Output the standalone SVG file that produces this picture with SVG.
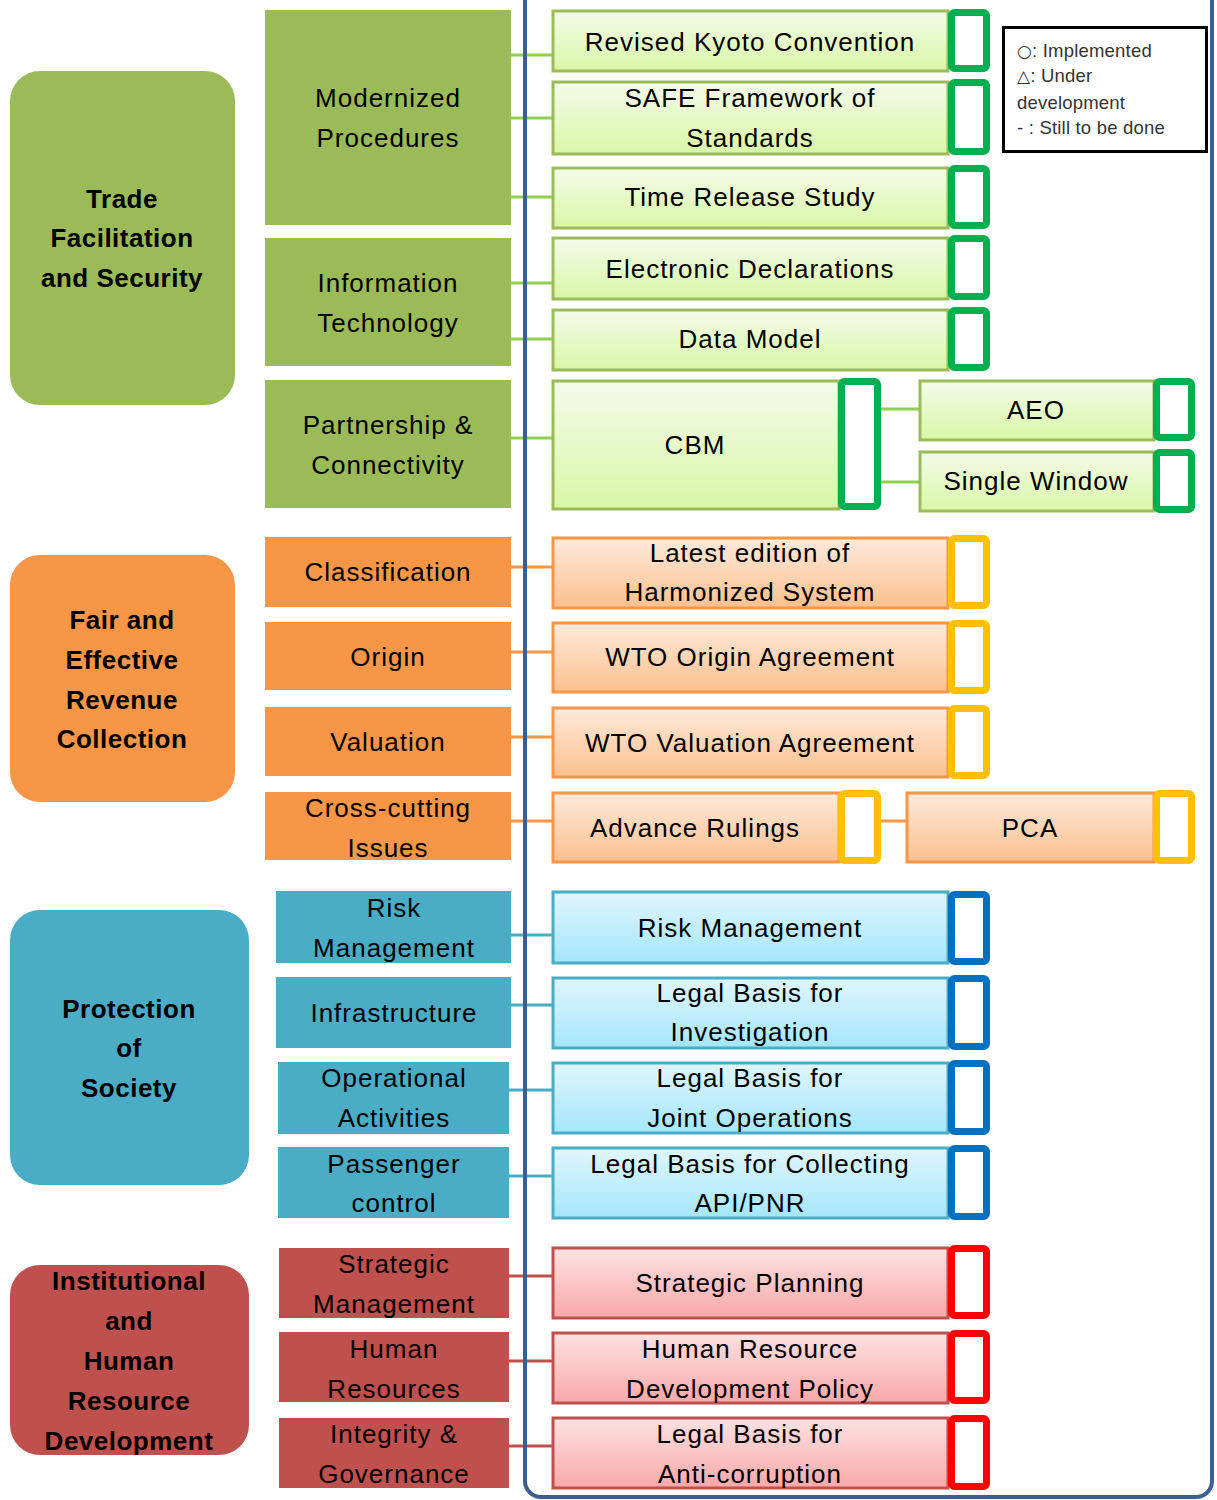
<svg xmlns="http://www.w3.org/2000/svg" width="1217" height="1500" viewBox="0 0 1217 1500">
<defs>
<linearGradient id="gG" x1="0" y1="0" x2="0" y2="1"><stop offset="0" stop-color="#F4FBEA"/><stop offset="1" stop-color="#D8F7A6"/></linearGradient>
<linearGradient id="gO" x1="0" y1="0" x2="0" y2="1"><stop offset="0" stop-color="#FEEADB"/><stop offset="1" stop-color="#FBC08E"/></linearGradient>
<linearGradient id="gB" x1="0" y1="0" x2="0" y2="1"><stop offset="0" stop-color="#E0F6FD"/><stop offset="1" stop-color="#A4E6FA"/></linearGradient>
<linearGradient id="gR" x1="0" y1="0" x2="0" y2="1"><stop offset="0" stop-color="#FDE2E2"/><stop offset="1" stop-color="#F9A8A8"/></linearGradient>
</defs>
<style>
text{font-family:"Liberation Sans",Arial,sans-serif;font-size:26px;fill:#000;text-anchor:middle;letter-spacing:1px}
.cat text{font-weight:bold;letter-spacing:0.5px}
.cG{fill:#9BBB59}.cO{fill:#F79646}.cB{fill:#4BACC6}.cR{fill:#C0504D}
.bG{fill:url(#gG);stroke:#9BBB59;stroke-width:3}
.bO{fill:url(#gO);stroke:#F79646;stroke-width:3}
.bB{fill:url(#gB);stroke:#4BACC6;stroke-width:3}
.bR{fill:url(#gR);stroke:#C0504D;stroke-width:3}
.sG{fill:#fff;stroke:#00B050;stroke-width:7}
.sO{fill:#fff;stroke:#FFC000;stroke-width:7}
.sB{fill:#fff;stroke:#0070C0;stroke-width:7}
.sR{fill:#fff;stroke:#FF0000;stroke-width:7}
.lG{stroke:#92D050;stroke-width:3}
.lO{stroke:#F79646;stroke-width:3}
.lB{stroke:#4BACC6;stroke-width:3}
.lR{stroke:#C0504D;stroke-width:3}
.leg text{font-size:18.5px;fill:#333;text-anchor:start;letter-spacing:0.2px}
.sym{font-family:"DejaVu Sans",sans-serif;font-size:17px}
</style>

<!-- categories -->
<g id="cat-trade" class="cat"><rect class="cG" x="10" y="71" width="225" height="334" rx="30"/><text x="122"><tspan x="122" y="208">Trade</tspan><tspan x="122" y="247">Facilitation</tspan><tspan x="122" y="287">and Security</tspan></text></g>
<g id="cat-revenue" class="cat"><rect class="cO" x="10" y="555" width="225" height="247" rx="30"/><text><tspan x="122" y="629">Fair and</tspan><tspan x="122" y="669">Effective</tspan><tspan x="122" y="709">Revenue</tspan><tspan x="122" y="748">Collection</tspan></text></g>
<g id="cat-society" class="cat"><rect class="cB" x="10" y="910" width="239" height="275" rx="30"/><text><tspan x="129" y="1018">Protection</tspan><tspan x="129" y="1057">of</tspan><tspan x="129" y="1097">Society</tspan></text></g>
<g id="cat-hr" class="cat"><rect class="cR" x="10" y="1265" width="239" height="190" rx="30"/><text><tspan x="129" y="1290">Institutional</tspan><tspan x="129" y="1330">and</tspan><tspan x="129" y="1370">Human</tspan><tspan x="129" y="1410">Resource</tspan><tspan x="129" y="1450">Development</tspan></text></g>

<!-- sub-categories -->
<g id="sub-modernized"><rect class="cG" x="265" y="10" width="246" height="215"/><text><tspan x="388" y="107">Modernized</tspan><tspan x="388" y="147">Procedures</tspan></text></g>
<g id="sub-it"><rect class="cG" x="265" y="238" width="246" height="128"/><text><tspan x="388" y="292">Information</tspan><tspan x="388" y="332">Technology</tspan></text></g>
<g id="sub-partnership"><rect class="cG" x="265" y="380" width="246" height="128"/><text><tspan x="388" y="434">Partnership &amp;</tspan><tspan x="388" y="474">Connectivity</tspan></text></g>

<g id="sub-classification"><rect class="cO" x="265" y="537" width="246" height="70"/><text x="388" y="581">Classification</text></g>
<g id="sub-origin"><rect class="cO" x="265" y="622" width="246" height="68"/><text x="388" y="666">Origin</text></g>
<g id="sub-valuation"><rect class="cO" x="265" y="707" width="246" height="69"/><text x="388" y="751">Valuation</text></g>
<g id="sub-crosscutting"><rect class="cO" x="265" y="792" width="246" height="68"/><text><tspan x="388" y="817">Cross-cutting</tspan><tspan x="388" y="857">Issues</tspan></text></g>

<g id="sub-risk"><rect class="cB" x="276" y="891" width="235" height="72"/><text><tspan x="394" y="917">Risk</tspan><tspan x="394" y="957">Management</tspan></text></g>
<g id="sub-infra"><rect class="cB" x="276" y="977" width="235" height="71"/><text x="394" y="1022">Infrastructure</text></g>
<g id="sub-operational"><rect class="cB" x="278" y="1062" width="231" height="72"/><text><tspan x="394" y="1087">Operational</tspan><tspan x="394" y="1127">Activities</tspan></text></g>
<g id="sub-passenger"><rect class="cB" x="278" y="1147" width="231" height="71"/><text><tspan x="394" y="1173">Passenger</tspan><tspan x="394" y="1212">control</tspan></text></g>

<g id="sub-strategic"><rect class="cR" x="279" y="1248" width="230" height="70"/><text><tspan x="394" y="1273">Strategic</tspan><tspan x="394" y="1313">Management</tspan></text></g>
<g id="sub-humanres"><rect class="cR" x="279" y="1332" width="230" height="70"/><text><tspan x="394" y="1358">Human</tspan><tspan x="394" y="1398">Resources</tspan></text></g>
<g id="sub-integrity"><rect class="cR" x="279" y="1418" width="230" height="70"/><text><tspan x="394" y="1443">Integrity &amp;</tspan><tspan x="394" y="1483">Governance</tspan></text></g>

<!-- connectors -->
<g id="connectors">
<line class="lG" x1="511" y1="55" x2="553" y2="55"/>
<line class="lG" x1="511" y1="118" x2="553" y2="118"/>
<line class="lG" x1="511" y1="197" x2="553" y2="197"/>
<line class="lG" x1="511" y1="283" x2="553" y2="283"/>
<line class="lG" x1="511" y1="339" x2="553" y2="339"/>
<line class="lG" x1="511" y1="438" x2="553" y2="438"/>
<line class="lG" x1="881" y1="409" x2="921" y2="409"/>
<line class="lG" x1="881" y1="482" x2="921" y2="482"/>
<line class="lO" x1="511" y1="567" x2="553" y2="567"/>
<line class="lO" x1="511" y1="652" x2="553" y2="652"/>
<line class="lO" x1="511" y1="737" x2="553" y2="737"/>
<line class="lO" x1="511" y1="821" x2="553" y2="821"/>
<line class="lO" x1="881" y1="821" x2="907" y2="821"/>
<line class="lB" x1="511" y1="935" x2="553" y2="935"/>
<line class="lB" x1="511" y1="1005" x2="553" y2="1005"/>
<line class="lB" x1="509" y1="1090" x2="553" y2="1090"/>
<line class="lB" x1="509" y1="1176" x2="553" y2="1176"/>
<line class="lR" x1="509" y1="1276" x2="553" y2="1276"/>
<line class="lR" x1="509" y1="1361" x2="553" y2="1361"/>
<line class="lR" x1="509" y1="1446" x2="553" y2="1446"/>
</g>

<!-- frame -->
<rect id="frame" x="525" y="-40" width="687" height="1537" rx="16" fill="none" stroke="#3C5F8F" stroke-width="4"/>

<!-- green items -->
<g id="kyoto"><rect class="bG" x="553" y="11" width="395" height="60"/><rect class="sG" x="951.5" y="12.5" width="35" height="56" rx="3"/><text x="750" y="51">Revised Kyoto Convention</text></g>
<g id="safe"><rect class="bG" x="553" y="82" width="395" height="72"/><rect class="sG" x="951.5" y="82.5" width="35" height="69" rx="3"/><text><tspan x="750" y="107">SAFE Framework of</tspan><tspan x="750" y="147">Standards</tspan></text></g>
<g id="trs"><rect class="bG" x="553" y="168" width="395" height="60"/><rect class="sG" x="951.5" y="168.5" width="35" height="57" rx="3"/><text x="750" y="206">Time Release Study</text></g>
<g id="edecl"><rect class="bG" x="553" y="238" width="395" height="61"/><rect class="sG" x="951.5" y="238.5" width="35" height="58" rx="3"/><text x="750" y="278">Electronic Declarations</text></g>
<g id="datamodel"><rect class="bG" x="553" y="310" width="395" height="60"/><rect class="sG" x="951.5" y="310.5" width="35" height="57" rx="3"/><text x="750" y="348">Data Model</text></g>
<g id="cbm"><rect class="bG" x="553" y="381" width="286" height="128"/><rect class="sG" x="841.5" y="381.5" width="36" height="125" rx="3"/><text x="695" y="454">CBM</text></g>
<g id="aeo"><rect class="bG" x="920" y="381" width="234" height="59"/><rect class="sG" x="1156.5" y="381.5" width="35" height="56" rx="3"/><text x="1036" y="419">AEO</text></g>
<g id="singlewindow"><rect class="bG" x="920" y="452" width="234" height="59"/><rect class="sG" x="1156.5" y="452.5" width="35" height="57" rx="3"/><text x="1036" y="490">Single Window</text></g>

<!-- orange items -->
<g id="hs"><rect class="bO" x="553" y="538" width="395" height="70"/><rect class="sO" x="951.5" y="538.5" width="35" height="67" rx="3"/><text><tspan x="750" y="562">Latest edition of</tspan><tspan x="750" y="601">Harmonized System</tspan></text></g>
<g id="wto-origin"><rect class="bO" x="553" y="623" width="395" height="69"/><rect class="sO" x="951.5" y="623.5" width="35" height="67" rx="3"/><text x="750" y="666">WTO Origin Agreement</text></g>
<g id="wto-valuation"><rect class="bO" x="553" y="708" width="395" height="69"/><rect class="sO" x="951.5" y="708.5" width="35" height="67" rx="3"/><text x="750" y="752">WTO Valuation Agreement</text></g>
<g id="advance"><rect class="bO" x="553" y="793" width="286" height="69"/><rect class="sO" x="841.5" y="793.5" width="36" height="67" rx="3"/><text x="695" y="837">Advance Rulings</text></g>
<g id="pca"><rect class="bO" x="907" y="793" width="247" height="69"/><rect class="sO" x="1156.5" y="793.5" width="35" height="67" rx="3"/><text x="1030" y="837">PCA</text></g>

<!-- blue items -->
<g id="riskmgmt"><rect class="bB" x="553" y="892" width="395" height="71"/><rect class="sB" x="951.5" y="894.5" width="35" height="67" rx="3"/><text x="750" y="937">Risk Management</text></g>
<g id="legal-inv"><rect class="bB" x="553" y="978" width="395" height="70"/><rect class="sB" x="951.5" y="978.5" width="35" height="68" rx="3"/><text><tspan x="750" y="1002">Legal Basis for</tspan><tspan x="750" y="1041">Investigation</tspan></text></g>
<g id="legal-joint"><rect class="bB" x="553" y="1063" width="395" height="70"/><rect class="sB" x="951.5" y="1063.5" width="35" height="68" rx="3"/><text><tspan x="750" y="1087">Legal Basis for</tspan><tspan x="750" y="1127">Joint Operations</tspan></text></g>
<g id="legal-api"><rect class="bB" x="553" y="1148" width="395" height="70"/><rect class="sB" x="951.5" y="1148.5" width="35" height="68" rx="3"/><text><tspan x="750" y="1173">Legal Basis for Collecting</tspan><tspan x="750" y="1212">API/PNR</tspan></text></g>

<!-- red items -->
<g id="stratplan"><rect class="bR" x="553" y="1248" width="395" height="70"/><rect class="sR" x="951.5" y="1248.5" width="35" height="67" rx="3"/><text x="750" y="1292">Strategic Planning</text></g>
<g id="hrdev"><rect class="bR" x="553" y="1333" width="395" height="70"/><rect class="sR" x="951.5" y="1333.5" width="35" height="67" rx="3"/><text><tspan x="750" y="1358">Human Resource</tspan><tspan x="750" y="1398">Development Policy</tspan></text></g>
<g id="anticorr"><rect class="bR" x="553" y="1418" width="395" height="70"/><rect class="sR" x="951.5" y="1418.5" width="35" height="68" rx="3"/><text><tspan x="750" y="1443">Legal Basis for</tspan><tspan x="750" y="1483">Anti-corruption</tspan></text></g>

<!-- legend -->
<g id="legend" class="leg"><rect x="1003.5" y="27.5" width="203" height="124" fill="#fff" stroke="#000" stroke-width="3"/><text><tspan x="1017" y="57"><tspan class="sym">○</tspan>: Implemented</tspan><tspan x="1017" y="82"><tspan class="sym">△</tspan>: Under</tspan><tspan x="1017" y="109">development</tspan><tspan x="1017" y="134">- :  Still to be done</tspan></text></g>
</svg>
